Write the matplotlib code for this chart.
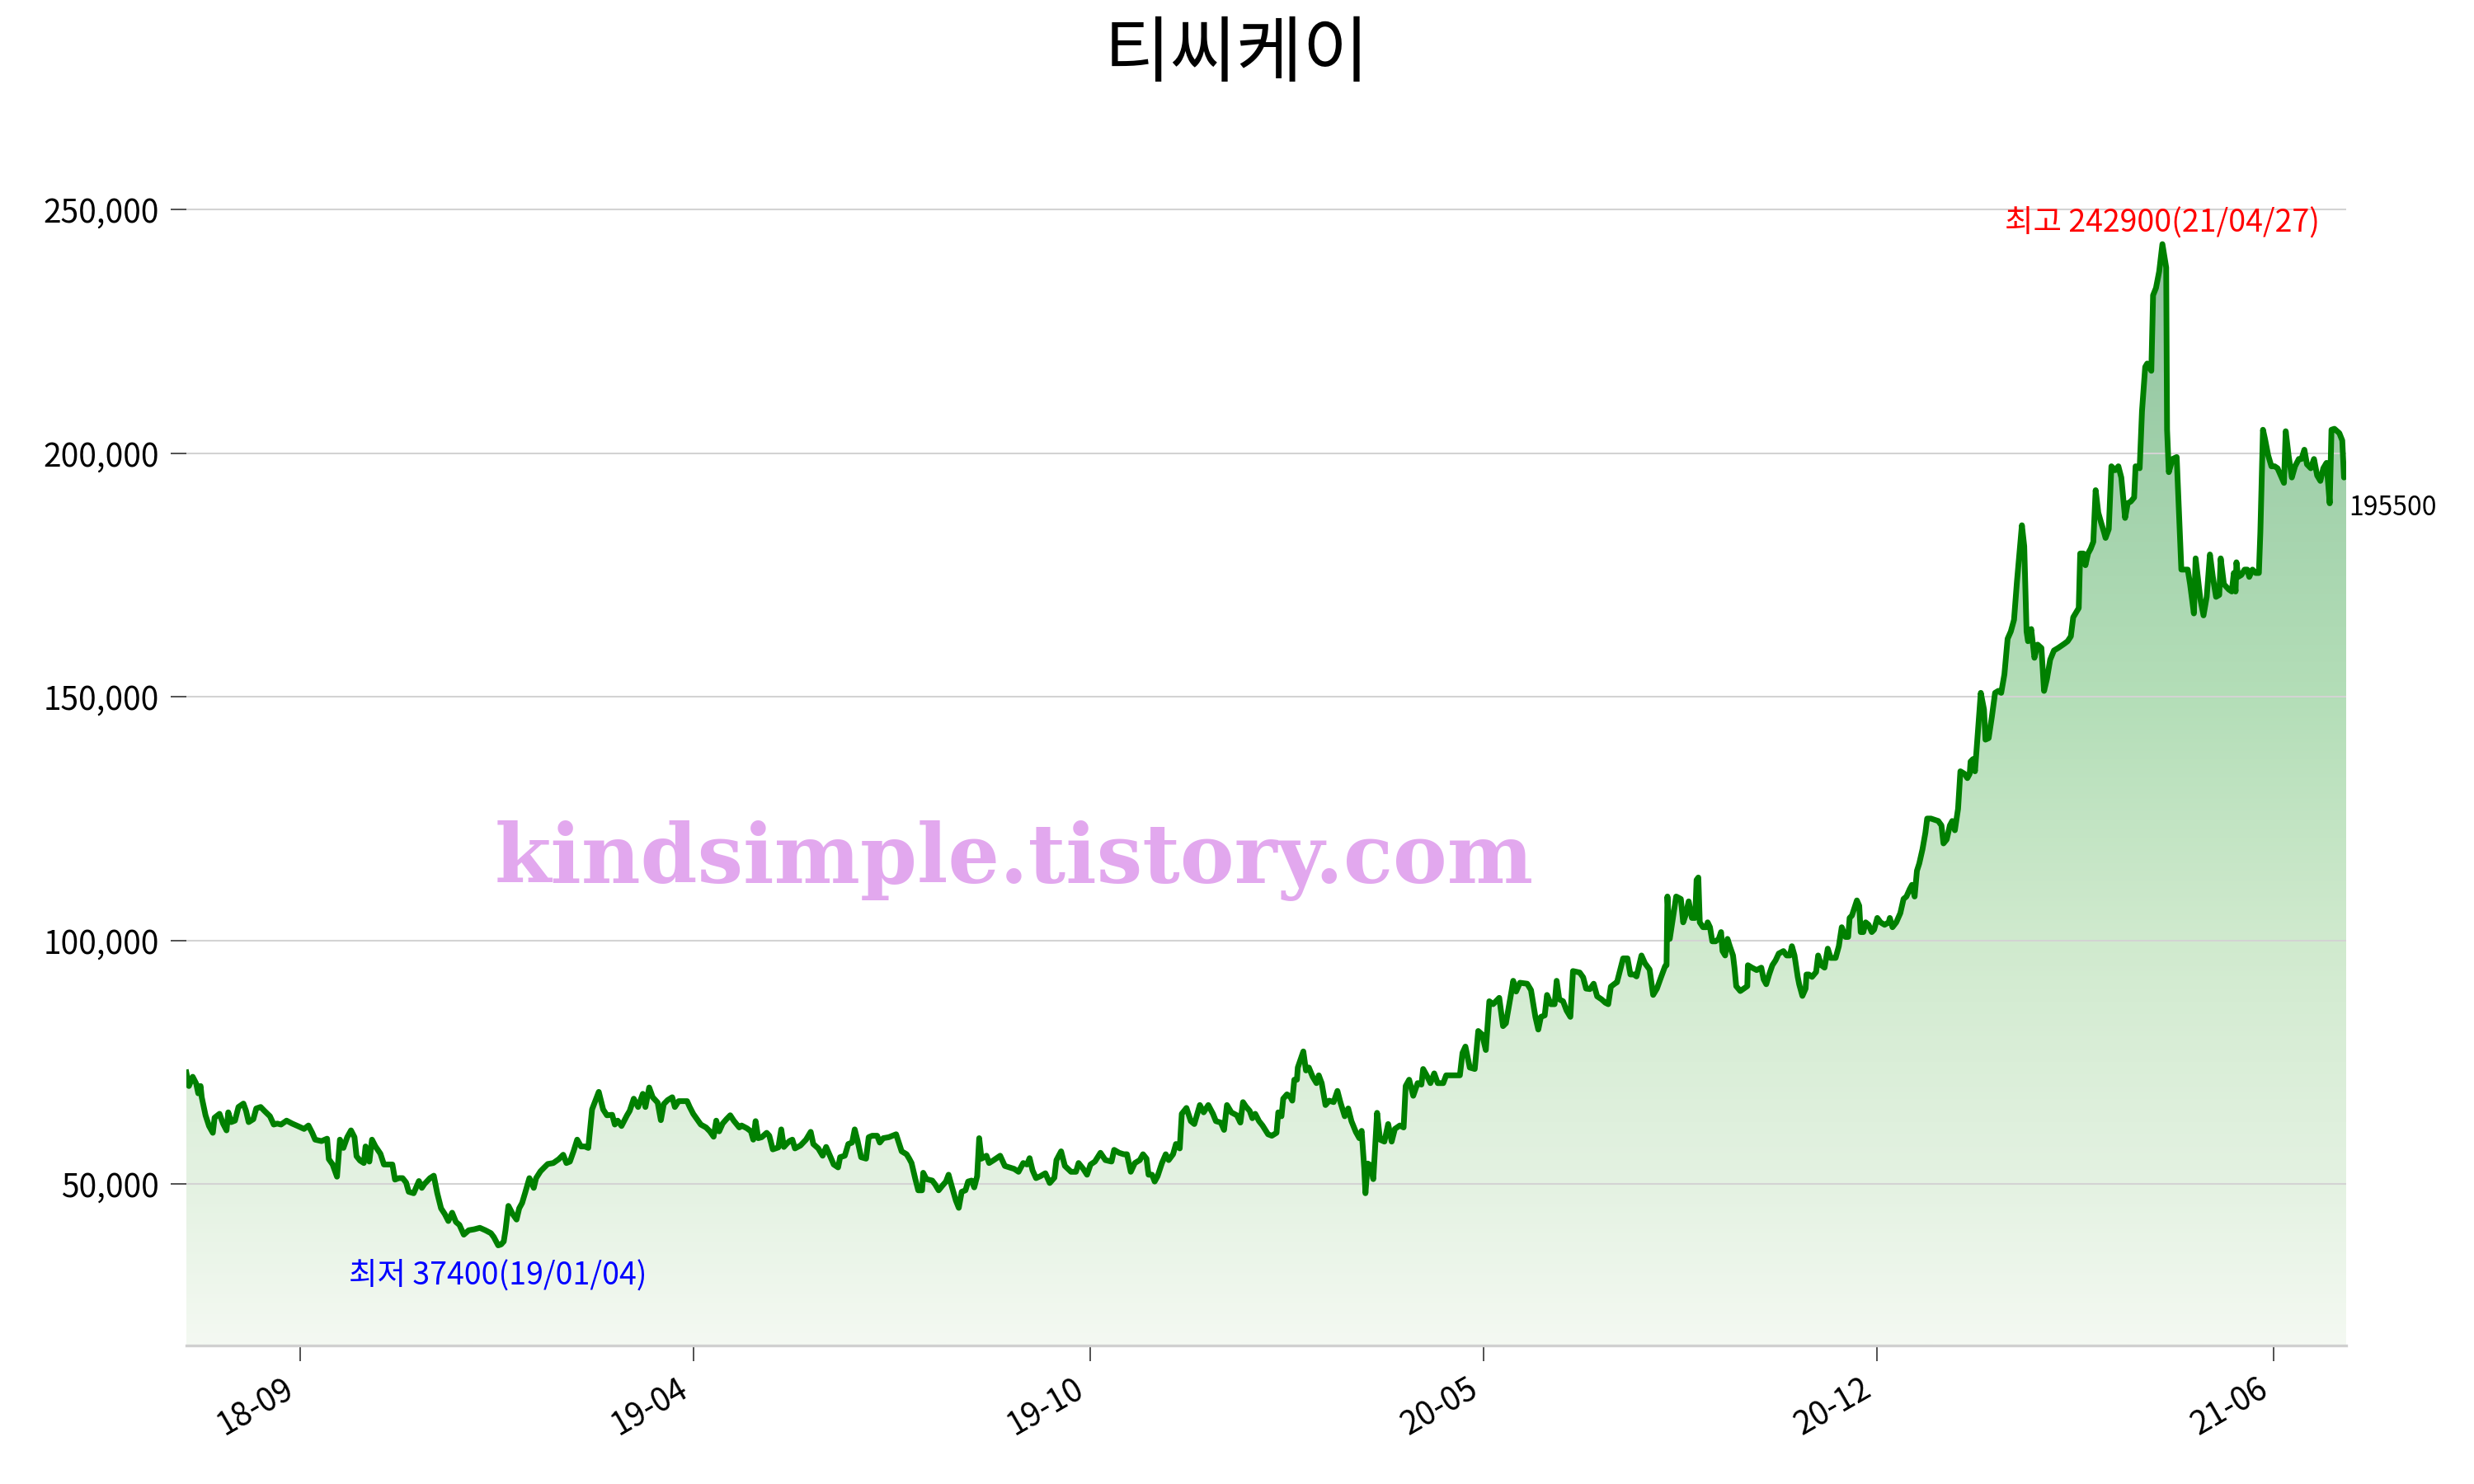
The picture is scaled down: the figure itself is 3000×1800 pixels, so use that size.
import numpy as np
import matplotlib
matplotlib.use("Agg")
import matplotlib.pyplot as plt
from matplotlib.patches import Polygon
from matplotlib.colors import LinearSegmentedColormap
from matplotlib.ticker import FuncFormatter

plt.rcParams['font.family'] = ['Noto Sans CJK KR', 'DejaVu Sans']

title = "티씨케이"

# x = trading-day index, y = closing price (KRW)
day_idx = [
    0.0, 0.9, 2.2, 3.4, 4.1, 4.9, 5.3, 6.6, 7.8, 9.1, 9.7, 11.4, 12.6, 13.8, 14.4, 15.4, 16.7, 17.9, 19.6, 20.5,
    21.4, 23.0, 24.0, 25.5, 26.8, 28.7, 30.0, 31.2, 32.5, 34.4, 36.3, 38.2, 40.4, 41.9, 43.2, 44.2, 46.4, 48.3, 48.9, 50.2,
    51.7, 52.7, 53.9, 55.2, 56.5, 57.7, 58.4, 59.6, 60.9, 61.5, 62.8, 63.7, 64.9, 66.6, 67.8, 69.1, 70.7, 71.6, 72.9, 74.2,
    75.4, 76.3, 78.0, 79.8, 80.8, 81.7, 83.6, 84.9, 86.1, 87.4, 88.7, 89.9, 91.2, 92.5, 93.7, 95.2, 96.9, 98.8, 100.7, 102.6,
    104.5, 105.5, 107.0, 108.0, 108.9, 109.5, 110.5, 112.0, 113.3, 114.2, 115.2, 116.2, 117.7, 119.2, 120.0, 121.5, 122.8, 124.0, 125.9, 127.8,
    129.3, 130.4, 131.6, 132.9, 134.1, 135.4, 136.7, 137.9, 139.2, 141.5, 143.0, 144.3, 146.1, 147.0, 148.0, 149.3, 151.2, 152.1, 153.5, 155.0,
    156.6, 157.5, 158.8, 160.0, 161.7, 162.8, 163.8, 165.1, 166.7, 167.6, 168.9, 170.1, 171.8, 172.7, 173.9, 175.2, 176.5, 178.3, 179.6, 180.9,
    181.8, 182.8, 184.0, 185.3, 186.6, 187.8, 189.7,
    190.5, 192.4, 193.7, 194.5, 195.3, 196.2, 197.4, 199.1, 200.0, 201.2, 203.1, 204.1, 205.0, 205.9, 206.9, 207.9, 208.8, 210.7, 212.6, 214.2,
    215.1, 216.8, 218.3, 219.5, 220.8, 222.1, 223.6, 224.3, 225.9, 227.1, 228.4, 229.3, 230.3, 231.5, 233.2, 234.1, 235.3, 237.0, 237.9, 239.1,
    241.0, 243.5, 245.4, 247.1, 248.0, 248.8, 250.1, 251.1, 252.4, 252.8, 253.9, 255.9, 256.9, 258.1, 259.3, 260.6, 261.5, 262.7, 264.0, 265.0,
    266.0, 267.3, 268.2, 269.4, 270.3, 271.3, 272.0, 272.8, 274.5, 275.4, 277.0, 279.2, 280.8, 282.4, 284.0, 285.5, 287.1, 288.4, 289.3, 290.3,
    291.5, 293.0, 294.7, 296.2, 297.8, 298.5, 300.1, 301.4, 303.5, 305.2, 306.1, 307.7, 309.0, 310.2, 311.7, 313.6, 315.3, 317.4, 318.3, 320.0,
    321.6, 322.7, 324.0, 325.4, 327.1, 328.2, 329.4, 330.1, 331.3, 332.2, 333.2, 334.7, 336.0, 337.0, 338.5, 339.5, 340.8, 341.5, 343.1, 344.6,
    345.8, 347.7, 349.0, 350.6, 352.2, 353.2, 354.9, 356.0, 357.0, 358.5, 360.4, 361.6, 362.5, 363.5, 364.8, 365.7, 366.7, 368.0, 369.2, 371.1,
    372.4, 374.0, 374.6,
    375.7, 376.3, 377.6, 378.8, 379.4, 380.1, 381.0, 381.3, 383.2, 384.1, 385.1, 386.4, 387.7, 388.5, 389.5, 390.8, 392.1, 393.6, 394.9, 395.9,
    397.4, 398.6, 399.7, 401.2, 402.4, 403.2, 404.1, 404.5, 405.3, 406.2, 407.2, 408.5, 409.5, 411.0, 412.3, 413.5, 414.6, 416.3, 417.6, 418.3,
    419.5, 420.9, 422.4, 423.7, 424.3, 425.5, 426.8, 428.1, 429.3, 431.2, 432.2, 434.4, 436.9, 437.8, 438.8, 440.3, 442.0, 443.2, 444.5, 445.8,
    447.0, 448.3, 450.4, 451.7, 452.7, 454.6, 455.2, 456.2, 457.5, 460.0, 461.3, 462.8, 463.8, 464.7, 466.0, 466.8, 468.1, 469.4, 470.1, 471.0,
    472.3, 473.5, 474.8, 475.7, 478.0, 479.2, 480.2, 481.5, 482.8, 484.0, 485.5, 486.8, 487.8, 488.7, 490.0, 490.8, 492.9, 494.4, 495.4, 496.6,
    497.5, 499.2, 500.4, 502.0, 503.2, 504.5, 505.7, 507.3,
    507.8, 508.1, 508.9, 510.0, 511.1, 512.7, 513.5, 514.3, 515.4, 516.5, 517.6, 518.1, 518.7, 519.2, 520.3, 521.4, 521.9, 522.7, 523.5, 524.6,
    525.7, 526.5, 527.0, 527.9, 528.7, 529.5, 530.6, 531.1, 531.7, 533.1, 535.5, 535.7, 537.1, 538.7, 540.3, 541.1, 542.0, 543.0, 544.1, 545.2,
    546.3, 547.9, 549.0, 550.1, 550.8, 551.7, 552.8, 553.3, 554.4, 555.5, 555.8, 556.6, 557.7, 559.1, 559.8, 560.9, 562.0, 563.1, 564.1, 565.8,
    566.9, 567.9, 569.2, 570.1, 570.6, 571.4, 573.1, 573.9, 574.4, 575.3, 576.1, 577.1, 578.2, 579.0, 580.1, 581.2, 582.6, 584.0, 584.4, 585.3,
    586.6, 588.0, 589.1, 590.1, 591.2, 592.0, 592.9, 593.7, 594.5, 595.6, 596.6, 597.2, 598.5, 601.0, 602.1, 602.8, 603.9, 605.0, 605.8, 606.7,
    607.8, 608.6, 610.0, 611.0, 611.8, 612.1, 612.9, 613.6, 614.5, 615.6, 616.7, 617.2, 618.3, 619.4, 620.5, 621.6, 622.6, 623.7, 624.8, 625.9,
    627.0, 628.0, 629.7, 630.5, 631.3, 631.8, 632.9, 634.0, 635.1, 636.4, 637.3, 638.3, 639.4, 640.7, 642.1, 644.3, 645.4, 646.5, 647.3, 648.3,
    649.2, 649.7, 650.8, 651.5, 652.4, 653.3, 654.2,
    655.0, 655.9, 656.8, 657.9, 658.4, 659.5, 660.4, 661.7, 662.8, 663.8, 665.1, 666.0, 667.1, 668.2, 668.7, 670.1, 670.9, 672.0, 672.7, 674.1,
    674.7, 675.7, 676.8, 677.9, 679.2, 679.5, 680.1, 681.4, 682.8, 684.4, 685.5, 686.6, 687.4, 688.7, 689.3, 690.9, 692.0, 693.1, 694.2, 695.2,
    696.3, 697.4, 697.9, 699.0, 700.7, 701.7, 702.4, 703.0, 703.3, 703.9, 705.0, 706.1, 707.0, 707.7, 708.8, 709.9, 711.0, 711.5, 712.4, 713.1,
    714.2, 715.3, 716.4, 717.4, 718.5, 719.6, 720.2, 721.2, 722.3, 723.4, 724.7, 725.6, 726.6, 727.5, 728.8, 729.9, 731.0, 732.1, 733.1, 734.2,
    735.3, 735.9, 736.9, 738.6, 739.6, 740.2, 741.0,
]
price = [
    72900, 70100, 72000, 70600, 68600, 70100, 67800, 64100, 61900, 60500, 63600, 64400, 62400, 61000, 64700, 62700, 63000, 65800, 66500, 65000,
    62700, 63300, 65500, 65800, 65000, 63900, 62200, 62400, 62200, 63000, 62400, 61900, 61300, 62000, 60500, 59100, 58800, 59300, 55100, 54000,
    51500, 59100, 57400, 59600, 61000, 59600, 55700, 54800, 54300, 57700, 54600, 59100, 57700, 56200, 54000, 54000, 54000, 50900, 51200, 51200,
    50300, 48400, 48100, 50600, 49200, 50000, 51200, 51700, 48100, 45000, 43800, 42400, 44100, 42200, 41600, 39600, 40500, 40700, 41000, 40500,
    39900, 39100, 37400, 37600, 38200, 40500, 45500, 43800, 42700, 45000, 46100, 48100, 51200, 49200, 51200, 52600, 53400, 54100, 54300, 55100,
    56000, 54300, 54600, 56800, 59100, 57700, 57700, 57400, 65300, 68900, 65300, 64100, 64200, 62200, 63000, 61900, 64100, 65000, 67500, 65800,
    68500, 65800, 69800, 67800, 66700, 63100, 66400, 67200, 67800, 65800, 67000, 67000, 67000, 65800, 64400, 63300, 62200, 61600, 60800, 59700,
    63000, 60800, 62400, 63300, 64100, 63000, 61600,
    62000, 61400, 60800, 59100, 62900, 59400, 59600, 60500, 59900, 57100, 57500, 61200, 57600, 58200, 58800, 59100, 57300, 57900, 59100, 60700,
    58200, 57300, 55800, 57600, 55800, 54000, 53400, 55500, 55800, 58200, 58500, 61200, 58800, 55500, 55200, 59600, 59900, 59900, 58500, 59400,
    59600, 60200, 56700, 56100, 55200, 54300, 51000, 48700, 48700, 52300, 51000, 50700, 49900, 48700, 49600, 50500, 51900, 49300, 46600, 45100,
    48400, 48700, 50500, 50700, 49300, 51600, 59400, 55200, 55800, 54300, 54900, 55800, 53700, 53400, 53100, 52500, 54300, 54000, 55300, 52800,
    51200, 51600, 52200, 50200, 51300, 54900, 56700, 53700, 52500, 52500, 54300, 53100, 51900, 54000, 54600, 56400, 54900, 54600, 57000, 56400,
    56100, 56100, 52500, 54300, 54900, 56100, 55200, 51900, 51900, 50500, 51600, 54300, 56100, 54900, 56100, 58200, 57300, 64400, 65600, 62900,
    62300, 66200, 64700, 66200, 64400, 62900, 62600, 61100, 66200, 64700, 64100, 62600, 66800, 65900, 65000, 63500, 64400, 62900, 62000, 60200,
    59900, 60500, 64700,
    63900, 67500, 68400, 67800, 67100, 71400, 71400, 73900, 77200, 73300, 73900, 72000, 70700, 72300, 70700, 66200, 67100, 66800, 69100, 66800,
    63900, 65500, 62900, 60700, 59400, 60900, 53200, 48100, 54200, 53900, 51000, 64600, 59100, 58700, 62300, 58700, 61300, 62000, 61600, 70100,
    71400, 68100, 70700, 70400, 73600, 72300, 70700, 72700, 70700, 70700, 72300, 72300, 72300, 76900, 78200, 73900, 73600, 81400, 80700, 77500,
    87500, 86900, 88200, 82400, 83000, 89500, 91700, 89500, 91300, 91100, 89800, 84300, 81700, 84300, 84600, 88800, 86900, 86900, 91700, 87900,
    87500, 85600, 84300, 93700, 93400, 92400, 90100, 90000, 91100, 88500, 87900, 87200, 86900, 90500, 91100, 91400, 96300, 96300, 93000, 93000,
    92600, 96900, 95300, 94000, 88800, 90100, 92100, 94700,
    94900, 109000, 100300, 104600, 109000, 108500, 103700, 105100, 108000, 104600, 104600, 112400, 112900, 103700, 102700, 102700, 103700, 102700, 99800, 99800,
    100300, 101700, 97800, 96900, 100300, 98800, 96900, 94400, 90600, 89600, 90600, 94900, 94400, 93900, 94400, 92000, 91000, 93000, 94900, 95900,
    97300, 97800, 96900, 96900, 98800, 96900, 92500, 91000, 88600, 90100, 93000, 93000, 92500, 93500, 96900, 94900, 94400, 98300, 96400, 96400,
    98800, 102700, 100700, 100700, 104600, 105100, 108200, 107100, 101700, 101700, 103700, 103200, 101700, 102200, 104600, 103700, 103200, 103700, 104600, 102700,
    103700, 105600, 108500, 109000, 110500, 111400, 109000, 114300, 115800, 118700, 122100, 125000, 125000, 124500, 123600, 119900, 120700, 123600, 124500, 122600,
    127000, 134700, 134200, 133300, 134200, 136700, 137200, 134700, 142000, 150800, 147400, 141200, 141500, 145900, 150800, 151200, 150800, 154600, 161900, 163400,
    165800, 173600, 185200, 180900, 163400, 161400, 163900, 158000, 160700, 160000, 151200, 153700, 157600, 159500, 160000, 160900, 161400, 162400, 166300, 167300,
    168200, 179400, 179400, 177000, 179400, 180400, 181800,
    192400, 187800, 185900, 183700, 182600, 184400, 197300, 196500, 197300, 195000, 186700, 189700, 190100, 190900, 197300, 196900, 208600, 217700, 218400, 216900,
    232400, 233900, 237300, 242900, 238100, 204800, 196100, 198800, 199200, 176100, 176100, 176100, 173100, 167100, 178400, 170100, 166700, 170500, 179200, 174600,
    170500, 170900, 178400, 173100, 172000, 171600, 175400, 171600, 177600, 174600, 175000, 176100, 176100, 174600, 176100, 175400, 175400, 183700, 204800, 202900,
    199500, 197300, 197300, 196900, 195400, 193900, 204500, 199500, 195000, 197300, 198800, 198800, 200700, 197700, 196900, 198800, 195400, 194300, 196900, 198000,
    189700, 204800, 205000, 204100, 202600, 195000, 195500,
]

tick_pos = [39, 174, 310, 445, 580, 716]
tick_labels = ["18-09", "19-04", "19-10", "20-05", "20-12", "21-06"]

hi_idx, hi_val, hi_date = 677.9, 242900, "21/04/27"
lo_idx, lo_val, lo_date = 107.0, 37400, "19/01/04"
last_idx, last_val = 741.0, 195500
watermark = "kindsimple.tistory.com"

x = np.asarray(day_idx, dtype=float)
y = np.asarray(price, dtype=float)

fig = plt.figure(figsize=(15, 9), dpi=200)
ax = fig.add_axes([0.0753, 0.0935, 0.8731, 0.8093])

ylo, yhi = 16900, 263400
x0, x1 = x.min(), x.max()

# gradient fill under the line
cmap = LinearSegmentedColormap.from_list(
    "fillgrad",
    [(0.0, (244/255, 249/255, 242/255)),
     (0.146, (228/255, 242/255, 226/255)),
     (0.367, (208/255, 234/255, 206/255)),
     (0.588, (180/255, 222/255, 184/255)),
     (0.81, (160/255, 208/255, 170/255)),
     (1.0, (145/255, 195/255, 160/255))])
grad = np.linspace(0, 1, 512).reshape(-1, 1)
verts = [(x[0], ylo)] + list(zip(x, y)) + [(x[-1], ylo)]
poly = Polygon(verts, closed=True, facecolor='none', edgecolor='none')
ax.add_patch(poly)
im = ax.imshow(grad, extent=[x0, x1, ylo, y.max()], origin='lower', aspect='auto',
               cmap=cmap, zorder=1, interpolation='bilinear')
im.set_clip_path(poly)

ax.plot(x, y, color='#008000', lw=2.5, zorder=3, solid_joinstyle='round')

ax.set_xlim(x0, x1)
ax.set_ylim(ylo, yhi)

ax.set_axisbelow('line')
ax.yaxis.grid(True, color='#d3d3d3', lw=0.75)
ax.set_yticks([50000, 100000, 150000, 200000, 250000])
ax.yaxis.set_major_formatter(FuncFormatter(lambda v, p: f"{v:,.0f}"))
ax.set_xticks(tick_pos)
ax.set_xticklabels(tick_labels, rotation=30, ha='right')
ax.tick_params(axis='both', labelsize=14, length=7, width=0.6, color='#333333', pad=5)

for s in ['top', 'right', 'left']:
    ax.spines[s].set_visible(False)
ax.spines['bottom'].set_color('#d0d0d0')
ax.spines['bottom'].set_linewidth(1.2)

fig.suptitle(title, fontsize=31.5, x=0.5, y=0.963, va='center')

ax.annotate(f"최고 {hi_val}({hi_date})", xy=(hi_idx, hi_val), xytext=(0, 2),
            textcoords='offset points', ha='center', va='bottom', color='red', fontsize=13.5)
ax.annotate(f"최저 {lo_val}({lo_date})", xy=(lo_idx, lo_val), xytext=(0, -6.5),
            textcoords='offset points', ha='center', va='top', color='blue', fontsize=13.5)
ax.annotate(f"{last_val}", xy=(last_idx, last_val), xytext=(1, -8.5),
            textcoords='offset points', ha='left', va='top', color='black', fontsize=11.5)

fig.text(0.41, 0.405, watermark, ha='center', va='baseline', fontsize=35.5,
         family='DejaVu Serif', fontweight='bold', color='#e2a8ee', zorder=5)

fig.savefig("out.png", dpi=200)
